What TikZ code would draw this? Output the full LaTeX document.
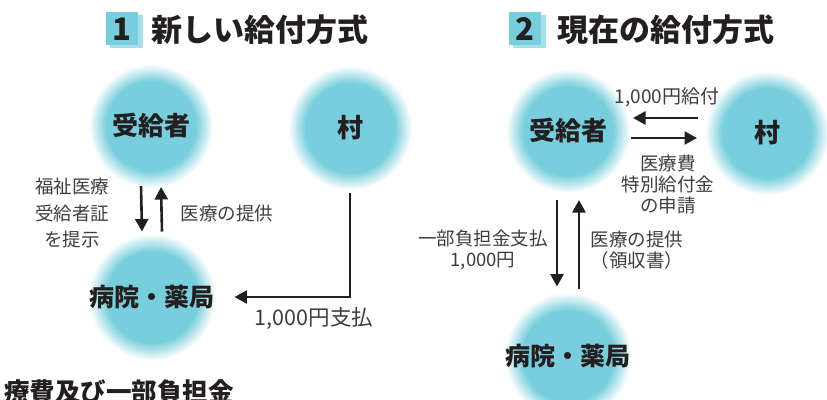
\documentclass[tikz,border=0pt]{standalone}
\usepackage{fontspec}
\setmainfont{Noto Sans CJK JP}
\usetikzlibrary{arrows.meta,calc}
\definecolor{tl}{RGB}{120,206,220}
\definecolor{tllight}{RGB}{168,222,231}
\definecolor{ink}{RGB}{35,31,32}
\definecolor{lab}{RGB}{62,62,62}
\pgfdeclareradialshading{glow}{\pgfpoint{0bp}{0bp}}{color(0bp)=(tl); color(18bp)=(tl); color(25bp)=(white); color(50bp)=(white)}
\tikzset{
  disc/.style={circle, minimum size=124pt, inner sep=0pt, outer sep=0pt, shading=glow, font=\bfseries\fontsize{26}{26}\selectfont, text=ink},
  lbl/.style={font=\fontsize{18.5}{26.5}\selectfont, text=lab, align=center, inner sep=0pt},
  lblr/.style={lbl, font=\fontsize{18.5}{21}\selectfont},
  arr/.style={draw=ink, line width=2.6pt, -{Triangle[length=12.5pt,width=13pt]}},
  ttl/.style={font=\bfseries\fontsize{31}{31}\selectfont, text=ink, inner sep=0pt},
  numbox/.style={fill=tl},
  numshadow/.style={fill=tllight},
}
\begin{document}
\begin{tikzpicture}[x=1pt,y=-1pt]
\useasboundingbox (0,0) rectangle (827,399);
\clip (0,0) rectangle (827,399);
% titles
\fill[numshadow] (110,15) rectangle (143,48);
\fill[numbox] (106,12) rectangle (138,45);
\node[ttl] (n1) at (122,29) {1};
\node[ttl, anchor=west] (t1) at (151,30) {新しい給付方式};
\fill[numshadow] (513,15) rectangle (546,48);
\fill[numbox] (509,12) rectangle (541,45);
\node[ttl] (n2) at (525,29) {2};
\node[ttl, anchor=west] (t2) at (557,30) {現在の給付方式};
% left diagram
\node[disc] (r1) at (151,126) {受給者};
\node[disc] (v1) at (350,128) {村};
\node[disc, font=\bfseries\fontsize{25}{25}\selectfont] (h1) at (152,297) {病院・薬局};
\draw[arr] ($(r1.south)+(-10,-2)$) -- ($(h1.north)+(-10,-2)$);
\draw[arr] ($(h1.north)+(10,-2)$) -- ($(r1.south)+(10,-1)$);
\draw[arr] ($(v1.south)+(0,3)$) |- ($(h1.east)+(19,0)$);
\node[lbl] (l1) at (72,213) {福祉医療\\受給者証\\を提示};
\node[lbl] (l2) at (227,213) {医療の提供};
\node[lbl, font=\fontsize{21.5}{24}\selectfont] (l3) at (314,318) {1,000円支払};
% right diagram
\node[disc] (r2) at (568,131) {受給者};
\node[disc] (v2) at (767,133) {村};
\node[disc, font=\bfseries\fontsize{25}{25}\selectfont] (h2) at (568,356) {病院・薬局};
\draw[arr] ($(v2.west)+(-7,-15)$) -- ($(r2.east)+(3,-13)$);
\draw[arr] ($(r2.east)+(1,7)$) -- ($(v2.west)+(-8,5)$);
\draw[arr] ($(r2.south)+(-11,7)$) -- ($(h2.north)+(-11,-6)$);
\draw[arr] ($(h2.north)+(11,-4)$) -- ($(r2.south)+(11,7)$);
\node[lbl, font=\fontsize{19}{21}\selectfont] (l4) at (667,97) {1,000円給付};
\node[lblr] (l5) at (668,184) {医療費\\特別給付金\\の申請};
\node[lblr] (l6) at (483,250) {一部負担金支払\\1,000円};
\node[lblr] (l7) at (637,250) {医療の提供\\（領収書）};
% cut-off caption
\node[font=\bfseries\fontsize{25.5}{25.5}\selectfont, text=ink, inner sep=0pt, anchor=base east] (cap) at (234,401) {療費及び一部負担金};
\end{tikzpicture}
\end{document}
